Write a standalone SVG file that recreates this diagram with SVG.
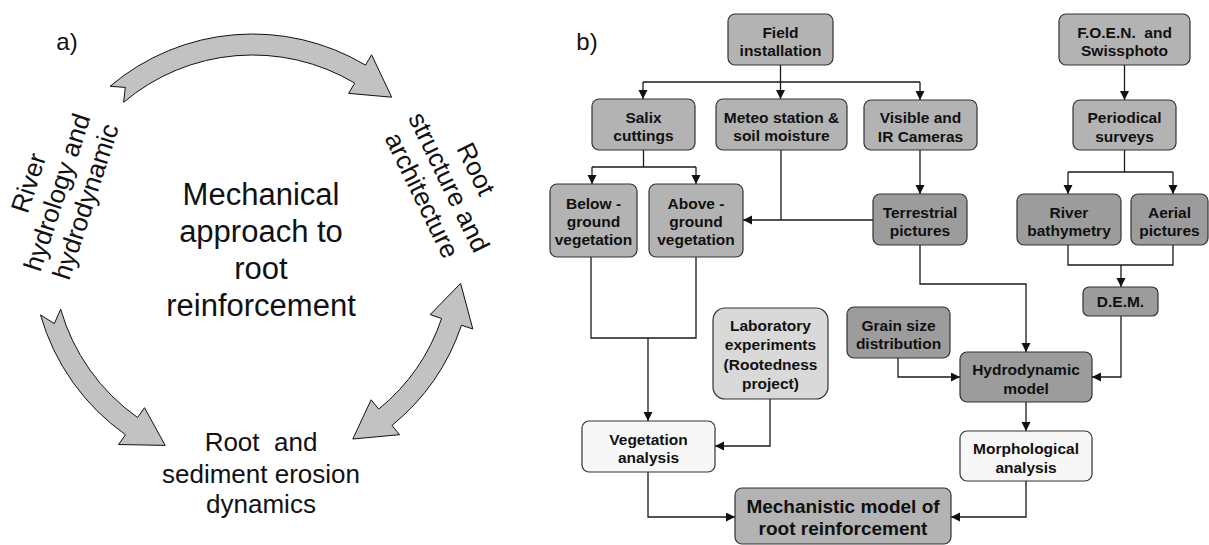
<svg xmlns="http://www.w3.org/2000/svg" width="1209" height="545" viewBox="0 0 1209 545">
<style>
.bx{stroke:#333;stroke-width:1.2}
.lt{fill:#b3b3b3}
.dk{fill:#9c9c9c}
.lab{fill:#d9d9d9}
.wh{fill:#f7f7f7}
.t{font-family:"Liberation Sans",Arial,sans-serif;font-weight:bold;font-size:15.5px;fill:#111;text-anchor:middle}
.big{font-size:19px}
.a{font-family:"Liberation Sans",Arial,sans-serif;fill:#111;text-anchor:middle}
.cn{fill:none;stroke:#1a1a1a;stroke-width:1.3}
.arr{fill:#c2c2c2;stroke:#111;stroke-width:1}
</style>
<defs>
<marker id="ah" markerWidth="10" markerHeight="10" refX="9" refY="4.5" orient="auto" markerUnits="userSpaceOnUse"><path d="M0,0 L9,4.5 L0,9 Z" fill="#111"/></marker>
</defs>
<rect width="1209" height="545" fill="#fff"/>

<g id="panel-a">
<text class="a" x="67" y="50" font-size="24">a)</text>
<g id="arrow-top"><path class="arr" d="M110,86.3 A220.5,220.5 0 0 1 365.5,65.1 L371.6,54.8 L391.7,97.2 L348.6,93.4 L354.7,83.1 A199.5,199.5 0 0 0 123.6,102.3 L125.3,87.4 Z"/></g>
<g id="arrow-left"><path class="arr" d="M40.5,314.9 A220.5,220.5 0 0 0 125.5,434.7 L118.6,444.5 L165.2,445.4 L144.5,407.7 L137.6,417.5 A199.5,199.5 0 0 1 60.7,309.2 L54.3,323.6 Z"/></g>
<g id="arrow-right"><path class="arr" d="M461.5,325.2 L472.8,329 L460.6,283.4 L430.2,314.6 L441.6,318.5 A199.5,199.5 0 0 1 378.7,409.1 L371.1,399.8 L352.8,439 L399.5,434.7 L392,425.4 A220.5,220.5 0 0 0 461.5,325.2 Z"/></g>
<g id="center-text" class="a" font-size="31">
<text x="261" y="205">Mechanical</text>
<text x="261" y="242">approach to</text>
<text x="261" y="279">root</text>
<text x="261" y="316">reinforcement</text>
</g>
<g id="river-text" class="a" font-size="26" transform="translate(65.5,195) rotate(-72)">
<text x="0" y="-30">River</text>
<text x="0" y="0">hydrology and</text>
<text x="0" y="30">hydrodynamic</text>
</g>
<g id="root-text" class="a" font-size="26" transform="translate(441,186) rotate(64)">
<text x="0" y="-30">Root</text>
<text x="0" y="0">structure and</text>
<text x="0" y="30">architecture</text>
</g>
<g id="erosion-text" class="a" font-size="26">
<text x="261" y="451" xml:space="preserve">Root  and</text>
<text x="261" y="483">sediment erosion</text>
<text x="261" y="513">dynamics</text>
</g>
</g>

<g id="panel-b">
<text class="a" x="587" y="50" font-size="24">b)</text>

<g id="connectors">
<path class="cn" d="M780.5,65 V82 M643,82 H920"/>
<path class="cn" d="M643,82 V99" marker-end="url(#ah)"/>
<path class="cn" d="M780.5,82 V99" marker-end="url(#ah)"/>
<path class="cn" d="M920,82 V100" marker-end="url(#ah)"/>
<path class="cn" d="M643.5,150 V167 M592,167 H696"/>
<path class="cn" d="M592,167 V184" marker-end="url(#ah)"/>
<path class="cn" d="M696,167 V184" marker-end="url(#ah)"/>
<path class="cn" d="M781,150 V220"/>
<path class="cn" d="M873,220 H743" marker-end="url(#ah)"/>
<path class="cn" d="M920,150 V194" marker-end="url(#ah)"/>
<path class="cn" d="M920,245 V284 H1026 V352" marker-end="url(#ah)"/>
<path class="cn" d="M1124.5,65 V100" marker-end="url(#ah)"/>
<path class="cn" d="M1124.5,150 V172 M1068,172 H1173"/>
<path class="cn" d="M1068,172 V194" marker-end="url(#ah)"/>
<path class="cn" d="M1173,172 V194" marker-end="url(#ah)"/>
<path class="cn" d="M1068,245 V265 H1173 V245"/>
<path class="cn" d="M1121,265 V287" marker-end="url(#ah)"/>
<path class="cn" d="M1121,316 V377 H1092" marker-end="url(#ah)"/>
<path class="cn" d="M898,358 V377 H960" marker-end="url(#ah)"/>
<path class="cn" d="M1026,402 V431" marker-end="url(#ah)"/>
<path class="cn" d="M1026,481 V517 H951" marker-end="url(#ah)"/>
<path class="cn" d="M591,257 V338 H696 V257"/>
<path class="cn" d="M648,338 V421" marker-end="url(#ah)"/>
<path class="cn" d="M770,399 V446 H715" marker-end="url(#ah)"/>
<path class="cn" d="M648,472 V517 H735" marker-end="url(#ah)"/>
</g>

<g id="field"><rect class="bx lt" x="728" y="14" width="105" height="51" rx="7"/><text class="t" x="780.5" y="37.5">Field</text><text class="t" x="780.5" y="56">installation</text></g>
<g id="foen"><rect class="bx lt" x="1059" y="14" width="131" height="51" rx="7"/><text class="t" x="1124.5" y="37.5" xml:space="preserve">F.O.E.N.  and</text><text class="t" x="1124.5" y="56">Swissphoto</text></g>
<g id="salix"><rect class="bx lt" x="592" y="99" width="103" height="51" rx="7"/><text class="t" x="643.5" y="122.5">Salix</text><text class="t" x="643.5" y="141">cuttings</text></g>
<g id="meteo"><rect class="bx lt" x="716" y="99" width="131" height="51" rx="7"/><text class="t" x="781.5" y="122.5">Meteo station &amp;</text><text class="t" x="781.5" y="141">soil moisture</text></g>
<g id="visible"><rect class="bx lt" x="864" y="100" width="113" height="50" rx="7"/><text class="t" x="920.5" y="123">Visible and</text><text class="t" x="920.5" y="141.5">IR Cameras</text></g>
<g id="periodical"><rect class="bx lt" x="1073" y="100" width="103" height="50" rx="7"/><text class="t" x="1124.5" y="123">Periodical</text><text class="t" x="1124.5" y="141.5">surveys</text></g>
<g id="below"><rect class="bx lt" x="550" y="184" width="87" height="73" rx="7"/><text class="t" x="593.5" y="208.5">Below -</text><text class="t" x="593.5" y="227">ground</text><text class="t" x="593.5" y="245">vegetation</text></g>
<g id="above"><rect class="bx lt" x="649" y="184" width="94" height="73" rx="7"/><text class="t" x="696" y="208.5">Above -</text><text class="t" x="696" y="227">ground</text><text class="t" x="696" y="245">vegetation</text></g>
<g id="terrestrial"><rect class="bx dk" x="873" y="194" width="94" height="51" rx="7"/><text class="t" x="920" y="217.5">Terrestrial</text><text class="t" x="920" y="236">pictures</text></g>
<g id="river"><rect class="bx dk" x="1017" y="194" width="104" height="51" rx="7"/><text class="t" x="1069" y="217.5">River</text><text class="t" x="1069" y="236">bathymetry</text></g>
<g id="aerial"><rect class="bx dk" x="1131" y="194" width="77" height="51" rx="7"/><text class="t" x="1169.5" y="217.5">Aerial</text><text class="t" x="1169.5" y="236">pictures</text></g>
<g id="dem"><rect class="bx dk" x="1083" y="287" width="75" height="29" rx="6"/><text class="t" x="1120.5" y="307">D.E.M.</text></g>
<g id="grain"><rect class="bx dk" x="847" y="307" width="103" height="51" rx="7"/><text class="t" x="898.5" y="330.5">Grain size</text><text class="t" x="898.5" y="349">distribution</text></g>
<g id="hydro"><rect class="bx dk" x="960" y="352" width="132" height="50" rx="7"/><text class="t" x="1026" y="375">Hydrodynamic</text><text class="t" x="1026" y="393.5">model</text></g>
<g id="lab"><rect class="bx lab" x="713" y="308" width="115" height="91" rx="12"/><text class="t" x="770.5" y="331">Laboratory</text><text class="t" x="770.5" y="350">experiments</text><text class="t" x="770.5" y="369.5">(Rootedness</text><text class="t" x="770.5" y="388.5">project)</text></g>
<g id="veg"><rect class="bx wh" x="582" y="421" width="133" height="51" rx="7"/><text class="t" x="648.5" y="444.5">Vegetation</text><text class="t" x="648.5" y="463">analysis</text></g>
<g id="morph"><rect class="bx wh" x="960" y="431" width="132" height="50" rx="7"/><text class="t" x="1026" y="454">Morphological</text><text class="t" x="1026" y="472.5">analysis</text></g>
<g id="mech"><rect class="bx lt" x="735" y="488" width="216" height="56" rx="7"/><text class="t big" x="843" y="513">Mechanistic model of</text><text class="t big" x="843" y="535">root reinforcement</text></g>
</g>
</svg>
